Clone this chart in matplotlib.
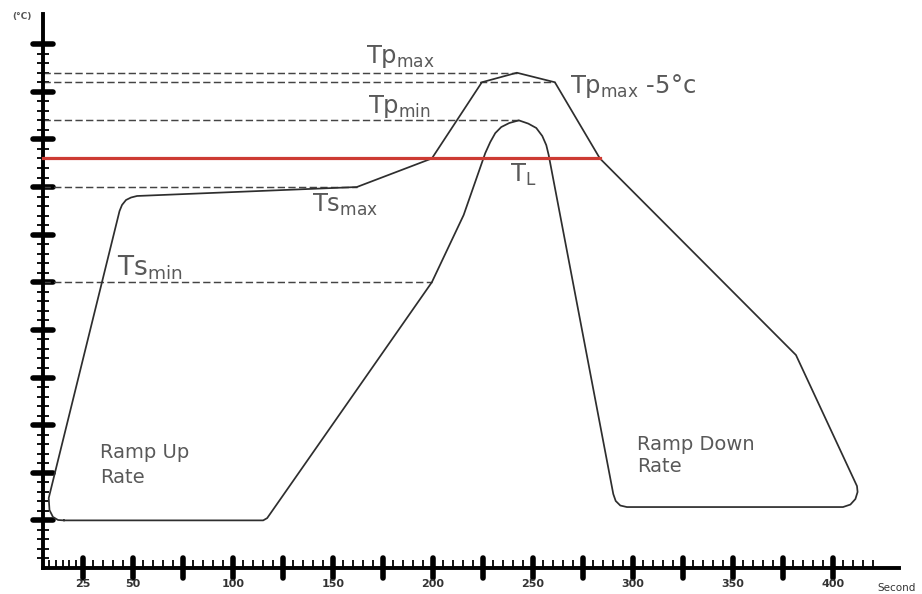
import matplotlib
matplotlib.use('Agg')
import matplotlib.pyplot as plt
import numpy as np
from matplotlib.ticker import FixedLocator, FixedFormatter
from matplotlib.markers import MarkerStyle

# reflow profile window (outline), time in s, temperature in degC
profile_time = [13.3, 9.6, 6.4, 4.25, 3.75, 43.4, 44.65, 46.65, 49.15, 52.15,
                162, 199.5, 224.5, 242, 261, 283.5, 381.5, 412, 412.3, 411.2,
                408.7, 405, 297, 293.7, 291.4, 290.2, 257.9, 256.7, 254.7, 251.7,
                247.7, 243, 238.2, 234.2, 231.2, 228.7, 226.2, 215.4, 199.5, 117.2,
                115.2, 13.3]
profile_temp = [25, 25.2, 26.8, 30.4, 36.7, 187.4, 190.6, 193.2, 194.5, 195.3,
                200, 215, 255, 260, 255, 215, 111.8, 43, 39.9, 36.2,
                33.3, 32, 32, 32.8, 35.2, 38.8, 216.8, 222, 226.8, 231,
                233.3, 235, 233.6, 231.5, 228.3, 223.6, 217.8, 185.3, 150, 26.2,
                25, 25]

# guide levels and where each guide line meets the profile
level_names = ['tp_max', 'tp_max_5', 'tp_min', 'ts_max', 'ts_min']
level_temp = [260, 255, 235, 200, 150]
level_end = [242, 261, 243, 162, 199.5]
t_liquidus = 215
t_liquidus_end = 283.5

x_major = list(range(25, 401, 25))
x_labels = [str(v) if (v == 25 or v % 50 == 0) else '' for v in x_major]
x_minor = [25 * k / 6 for k in range(1, 6)] + [v for v in range(30, 421, 5) if v % 25]
y_major = list(range(25, 276, 25))
y_minor = [v for v in range(5, 271, 5) if v % 25]


def fwd(x):
    x = np.asarray(x, dtype=float)
    return np.where(x < 25, x * 0.8, x - 5)


def inv(x):
    x = np.asarray(x, dtype=float)
    return np.where(x < 20, x / 0.8, x + 5)


fig = plt.figure(figsize=(9.22, 5.94), dpi=100)
ax = fig.add_axes([42.7 / 922, 26 / 594, 856.3 / 922, 554.5 / 594])
ax.set_xscale('function', functions=(fwd, inv))
ax.set_xlim(0, 433)
ax.set_ylim(0, 291.1)

txt = '#595959'

# dashed guide levels
for temp, end in zip(level_temp, level_end):
    ax.plot([0, end], [temp, temp], color='#444444', lw=1.05,
            linestyle=(0, (5, 2.3)), zorder=2, clip_on=False)

# profile outline
ax.plot(profile_time, profile_temp, color='#2e2e2e', lw=1.25, zorder=3,
        solid_joinstyle='round')

# liquidus line
ax.plot([0, t_liquidus_end], [t_liquidus, t_liquidus], color='#cd3b33', lw=2.3,
        zorder=4, clip_on=False)

big = 17.5
ax.text(166.6, 265.1, r'$\mathregular{Tp_{max}}$', fontsize=big, color=txt, va='baseline')
ax.text(268.6, 249.3, r'$\mathregular{Tp_{max}}$ -5°c', fontsize=big, color=txt, va='baseline')
ax.text(167.6, 238.8, r'$\mathregular{Tp_{min}}$', fontsize=big, color=txt, va='baseline')
ax.text(238.6, 202.6, r'$\mathregular{T_{L}}$', fontsize=big, color=txt, va='baseline')
ax.text(139.6, 186.9, r'$\mathregular{Ts_{max}}$', fontsize=big, color=txt, va='baseline')
ax.text(42.1, 153.3, r'$\mathregular{Ts_{min}}$', fontsize=big + 1.5, color=txt, va='baseline')

ax.text(33.6, 65.4, 'Ramp Up\nRate', fontsize=14, color=txt, va='top', linespacing=1.35)
ax.text(302.1, 70.0, 'Ramp Down\nRate', fontsize=14, color=txt, va='top', linespacing=1.25)

fig.text(22 / 922, 1 - 16 / 594, '(°C)', fontsize=6.5, fontweight='bold',
         color='#555555', ha='center', va='center')
fig.text(897 / 922, 1 - 588 / 594, 'Second', fontsize=7.5, color='#333333',
         ha='center', va='center')

# axes look
for side in ['top', 'right']:
    ax.spines[side].set_visible(False)
for side in ['left', 'bottom']:
    ax.spines[side].set_linewidth(2.8)
    ax.spines[side].set_color('black')

ax.xaxis.set_major_locator(FixedLocator(x_major))
ax.xaxis.set_major_formatter(FixedFormatter(x_labels))
ax.xaxis.set_minor_locator(FixedLocator(x_minor))
ax.yaxis.set_major_locator(FixedLocator(y_major))
ax.yaxis.set_minor_locator(FixedLocator(y_minor))
ax.set_yticklabels([])

ax.tick_params(axis='both', which='major', direction='inout', length=14, width=4,
               color='black', pad=1)
ax.tick_params(axis='x', which='minor', direction='in', length=5.5, width=1.3, color='black')
ax.tick_params(axis='y', which='minor', direction='inout', length=8, width=1.3, color='black')
ax.tick_params(axis='x', which='major', labelsize=8, labelcolor='#333333')
for lab in ax.get_xticklabels():
    lab.set_fontweight('bold')

for t in ax.xaxis.get_major_ticks():
    t.tick1line.set_marker(MarkerStyle('|', capstyle='round'))
for t in ax.yaxis.get_major_ticks():
    t.tick1line.set_marker(MarkerStyle('_', capstyle='round'))

fig.savefig('out.png', dpi=100)
